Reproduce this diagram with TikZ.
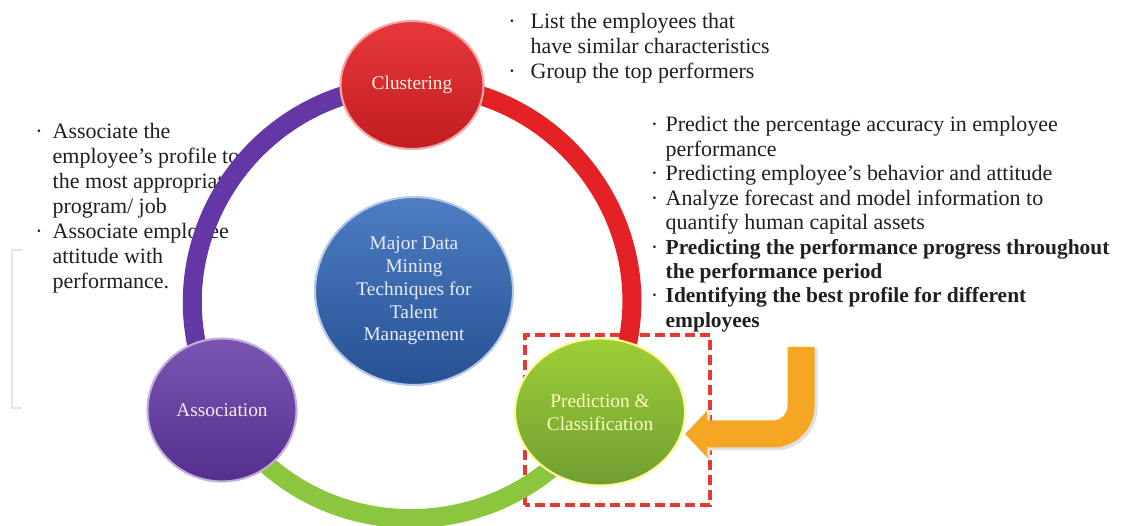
\documentclass[tikz,border=0pt]{standalone}
\usepackage{fontspec}
\setmainfont{Liberation Serif}
\usepackage{tikz}
\usetikzlibrary{arrows.meta, shapes.geometric}

\definecolor{clusred}{HTML}{E42226}
\definecolor{assocpurple}{HTML}{6437A6}
\definecolor{predgreen}{HTML}{8CC63E}
\definecolor{coreblue}{HTML}{2F66B8}
\definecolor{arroworange}{HTML}{F5A623}
\definecolor{boxred}{HTML}{E53A32}
\definecolor{inkgray}{HTML}{1F1F1F}

\newcommand{\bul}[1][0.2cm]{\llap{·\hspace{#1}}}
\newcommand{\boldline}[1]{{\fontsize{12.2}{13.9}\selectfont\bfseries #1}}

\begin{document}
\begin{tikzpicture}[x=0.02cm, y=0.02cm, thick,
	ball/.style={ellipse, inner sep=0pt, align=center, line width=1.2pt,
		font=\fontsize{11}{13}\selectfont},
	ringarc/.style={line width=0.38cm, line cap=butt},
	notes/.style={anchor=north west, inner sep=0pt, align=left, text=inkgray,
		font=\fontsize{12.5}{14.2}\selectfont},
	]
	\useasboundingbox (0,0) rectangle (1135,526);
	\draw[black!10, line width=1pt] (22,276) -- (12,276) -- (12,118) -- (22,118);

	\node[notes] (noteclus) at (530,513) {\bul[0.3cm]List the employees that\\
		have similar characteristics\\
		\bul[0.3cm]Group the top performers};
	\node[notes] (noteassoc) at (52,403) {\bul Associate the\\
		employee's profile to\\
		the most appropriate\\
		program/ job\\
		\bul Associate employee\\
		attitude with\\
		performance.};
	\node[notes, font=\fontsize{12.5}{13.9}\selectfont] (notepred) at (665,410) {\bul[0.15cm]Predict the percentage accuracy in employee\\
		performance\\
		\bul[0.15cm]Predicting employee's behavior and attitude\\
		\bul[0.15cm]Analyze forecast and model information to\\
		quantify human capital assets\\
		\bul[0.15cm]\boldline{Predicting the performance progress throughout}\\
		\boldline{the performance period}\\
		\bul[0.15cm]\boldline{Identifying the best profile for different}\\
		\boldline{employees}};

	\draw[boxred, line width=1.8pt, dash pattern=on 0.2cm off 0.1cm] (525,21) rectangle (710,191);

	\coordinate (clusc) at (412,441);
	\coordinate (assocc) at (222,116);
	\coordinate (predc) at (600,114);
	\draw[ringarc, clusred] (clusc) to[out=0, in=58.5, looseness=1.15] (predc);
	\draw[ringarc, assocpurple] (clusc) to[out=180, in=120.3, looseness=1.14] (assocc);
	\draw[ringarc, predgreen] (assocc) to[out=300.3, in=238.5, looseness=1.13] (predc);

	\node[ball, minimum width=3.96cm, minimum height=3.76cm, top color=coreblue!85!white,
		bottom color=coreblue!80!black, draw=coreblue!35!white, text=blue!8!white]
		(core) at (414,235) {Major Data\\ Mining\\ Techniques for\\ Talent\\ Management};
	\node[ball, minimum width=2.86cm, minimum height=2.56cm, top color=clusred!90!white,
		bottom color=clusred!85!black, draw=clusred!40!white, text=orange!10!white]
		(clus) at (clusc) {Clustering};
	\node[ball, minimum width=2.98cm, minimum height=2.86cm, top color=assocpurple!85!white,
		bottom color=assocpurple!85!black, draw=assocpurple!40!white, text=magenta!10!white]
		(assoc) at (assocc) {Association};
	\node[ball, minimum width=3.4cm, minimum height=2.94cm, top color=predgreen!85!yellow,
		bottom color=predgreen!80!black, draw=yellow!40!white, text=yellow!25!white]
		(pred) at (predc) {Prediction \&\\ Classification};

	\coordinate (arrtop) at (801,179);
	\coordinate (arrtip) at (685,92);
	\draw[black!12, line width=0.58cm, rounded corners=0.56cm,
		-{Triangle[length=0.46cm, width=0.96cm]}] ([shift={(2,-2)}]arrtop) |- ([shift={(2,-2)}]arrtip);
	\draw[arroworange, line width=0.54cm, rounded corners=0.56cm,
		-{Triangle[length=0.44cm, width=0.9cm]}] (arrtop) |- (arrtip);
\end{tikzpicture}
\end{document}
